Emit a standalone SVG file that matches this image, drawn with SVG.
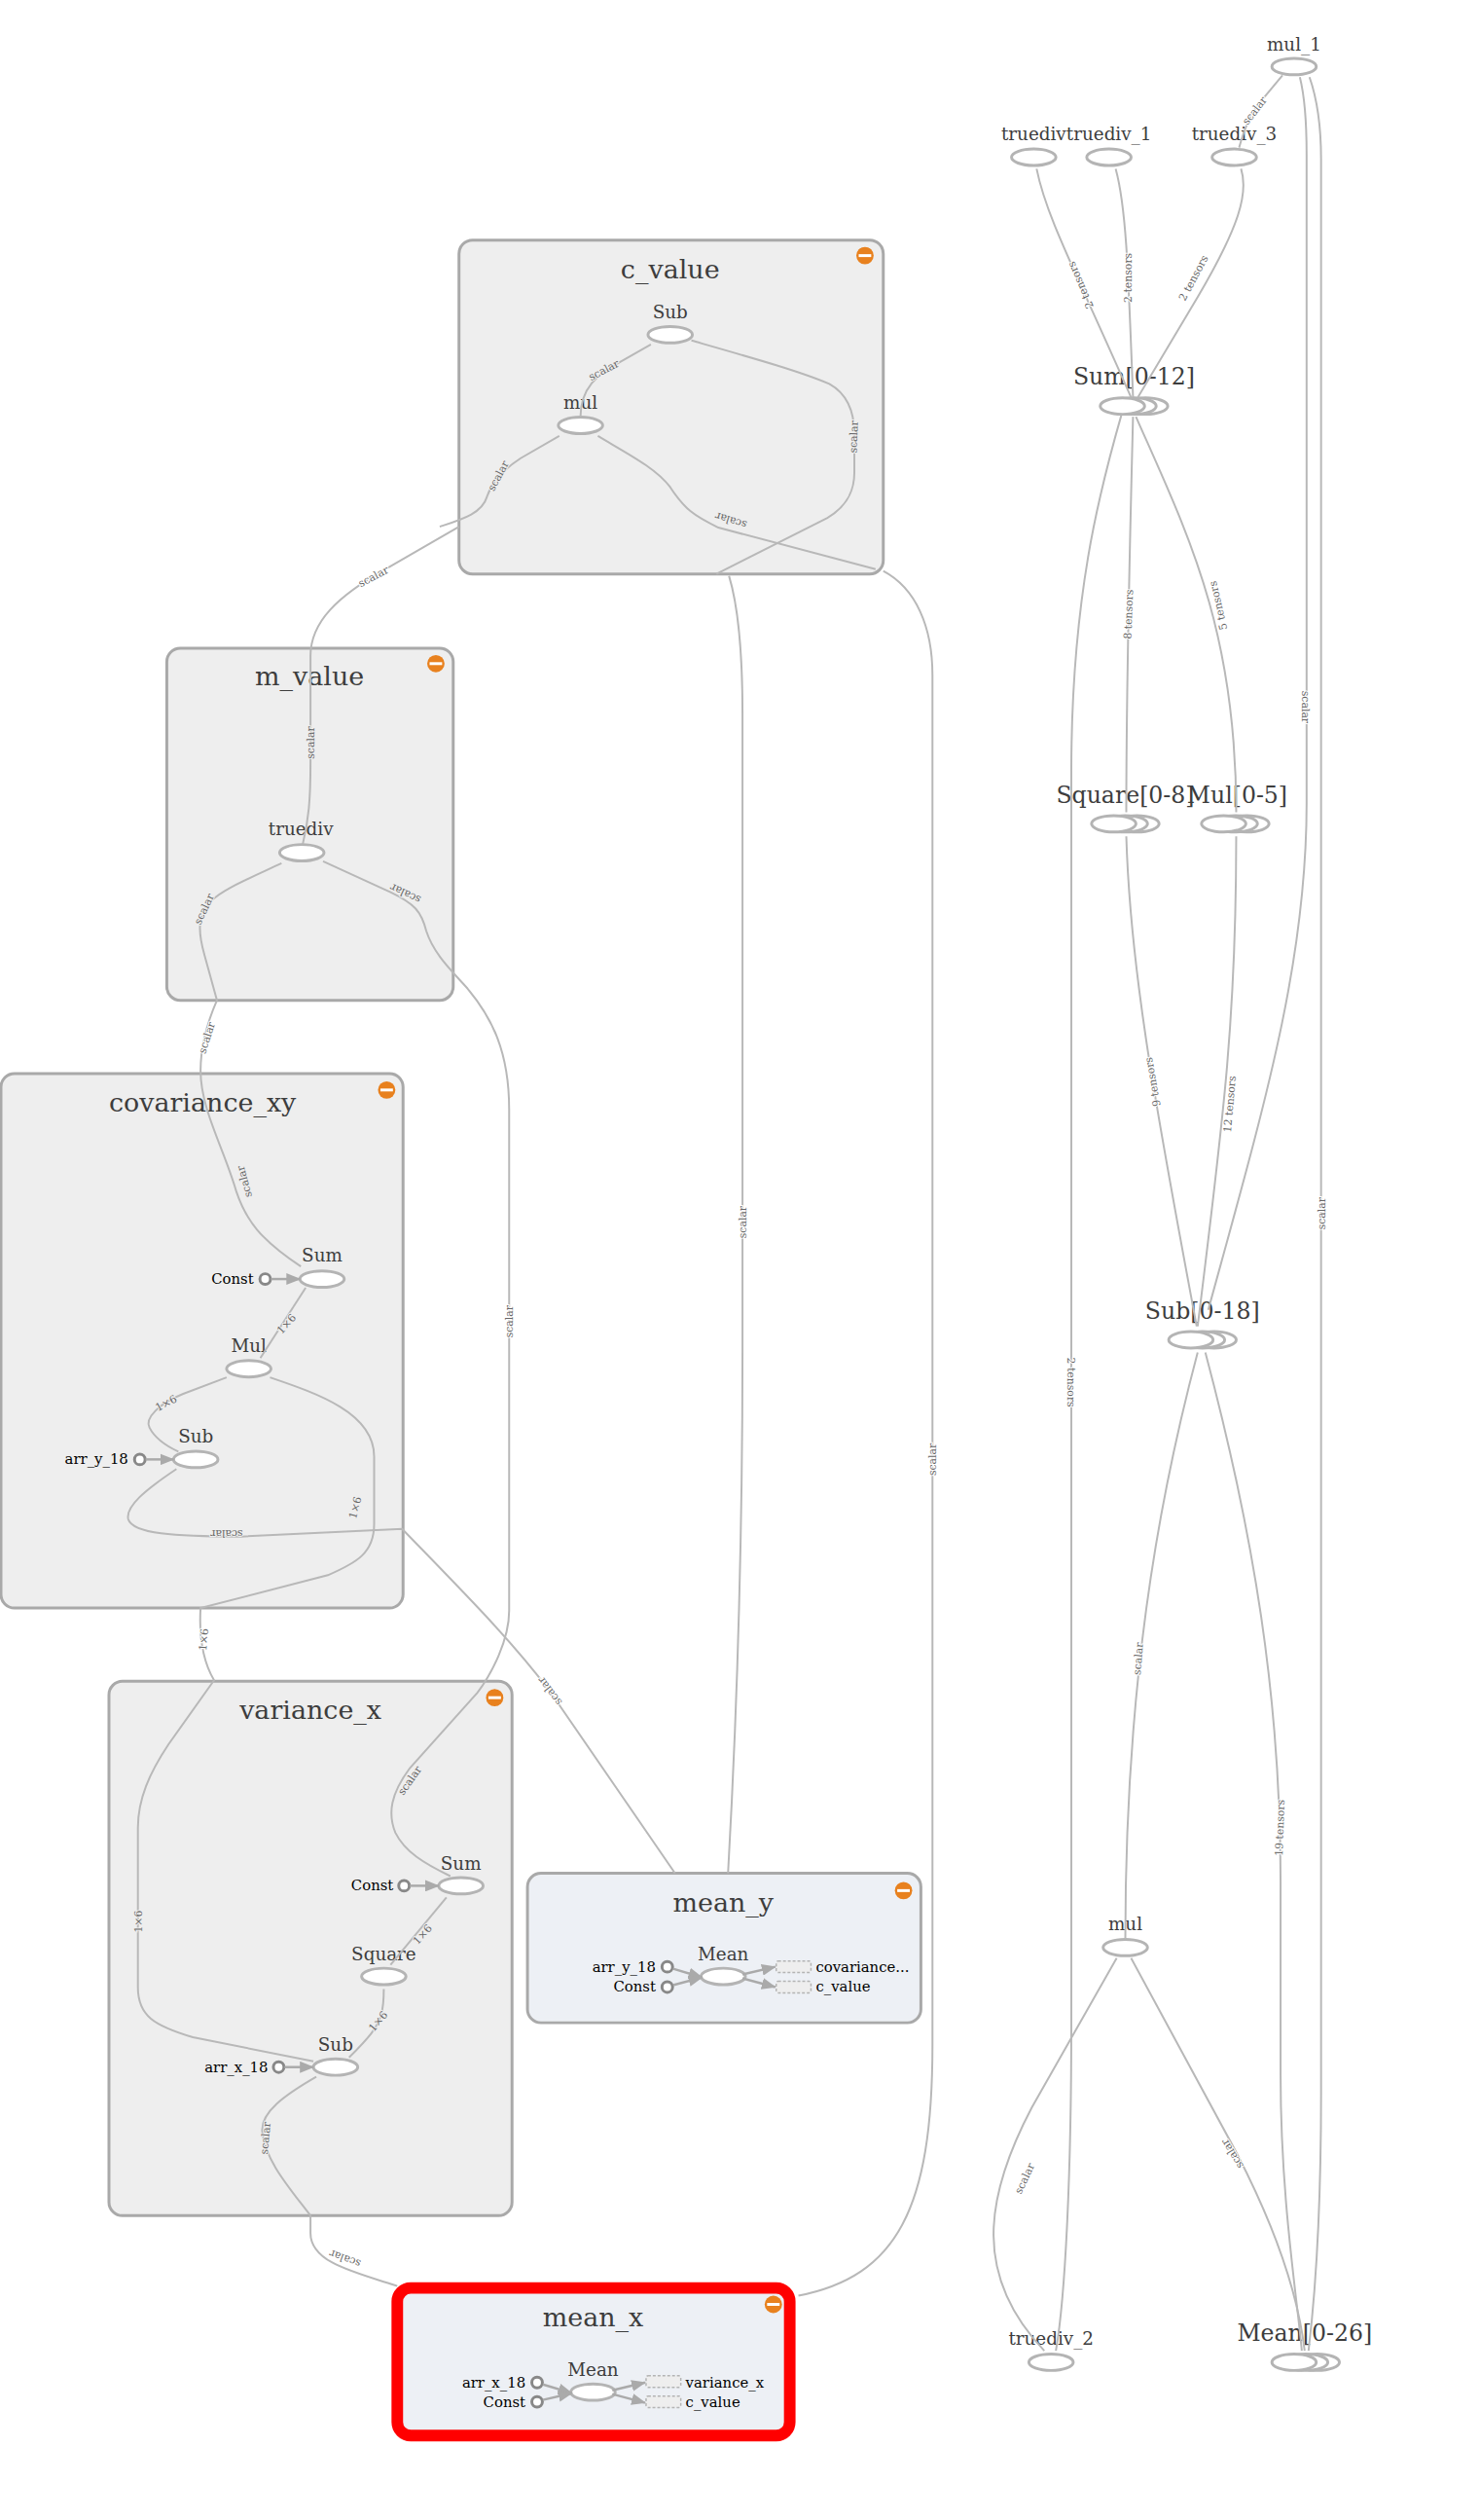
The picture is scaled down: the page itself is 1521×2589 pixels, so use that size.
<svg xmlns="http://www.w3.org/2000/svg" width="1521" height="2589" viewBox="0 0 1521 2589">
<style>
text{font-family:"DejaVu Serif",serif}
.box{fill:#eee;stroke:#a9a9a9;stroke-width:3}
.meta{fill:#edf0f5;stroke:#a9a9a9;stroke-width:3}
.red{fill:#edf0f5;stroke:#f00;stroke-width:12}
.t{font-size:27.2px;fill:#3d3d3d;text-anchor:middle}
.n{font-size:18.5px;fill:#3d3d3d;text-anchor:middle}
.s{font-size:23.8px;fill:#3d3d3d;text-anchor:middle}
.c{font-size:15px;fill:#000;text-anchor:end}
.o{font-size:15px;fill:#000}
.op{fill:#fff;stroke:#b4b4b4;stroke-width:3}
.cn{fill:#fff;stroke:#888;stroke-width:3}
.d{fill:#eee;stroke:#b4b4b4;stroke-width:1.5;stroke-dasharray:3 2}
#edges path{fill:none;stroke:#b8b8b8;stroke-width:2}
#edges path.a{stroke:#aaa;stroke-width:2.5;marker-end:url(#ah)}
.l{font-size:11px;fill:#666;text-anchor:middle;paint-order:stroke;stroke:#fff;stroke-width:2}
.g{stroke:#eee}
</style>
<defs>
<marker id="ah" markerUnits="userSpaceOnUse" markerWidth="15" markerHeight="12" refX="14" refY="6" orient="auto"><path d="M0,0L15,6L0,12Z" fill="#aaa" stroke="none"/></marker>
<g id="minus"><circle r="9" fill="#e8811e"/><rect x="-6.5" y="-1.5" width="13" height="3" fill="#fff"/></g>
</defs>
<g id="graph" transform="scale(.991)">
<g id="c_value"><rect class="box" x="476" y="249" width="440" height="346" rx="14"/><text class="t" x="695" y="289">c_value</text><use href="#minus" x="897" y="265"/></g>
<g id="m_value"><rect class="box" x="173" y="672" width="297" height="365" rx="14"/><text class="t" x="321" y="710">m_value</text><use href="#minus" x="452" y="688"/></g>
<g id="covariance_xy"><rect class="box" x="1" y="1113" width="417" height="554" rx="14"/><text class="t" x="210" y="1152">covariance_xy</text><use href="#minus" x="401" y="1130"/></g>
<g id="variance_x"><rect class="box" x="113" y="1743" width="418" height="554" rx="14"/><text class="t" x="322" y="1782">variance_x</text><use href="#minus" x="513" y="1760"/></g>
<g id="mean_y"><rect class="meta" x="547" y="1942" width="408" height="155" rx="14"/><text class="t" x="750" y="1982">mean_y</text><use href="#minus" x="937" y="1960"/>
<ellipse class="op" cx="750" cy="2049" rx="23" ry="8.5"/><text class="n" x="750" y="2032">Mean</text>
<circle class="cn" cx="692" cy="2039" r="5.5"/><text class="c" x="680" y="2044">arr_y_18</text><circle class="cn" cx="692" cy="2060" r="5.5"/><text class="c" x="680" y="2065">Const</text>
<rect class="d" x="805" y="2033" width="36" height="12" rx="2"/><rect class="d" x="805" y="2054" width="36" height="12" rx="2"/><text class="o" x="846" y="2044">covariance...</text><text class="o" x="846" y="2065">c_value</text></g>
<g id="mean_x"><rect class="red" x="412" y="2372" width="407" height="153" rx="14"/><text class="t" x="615" y="2412">mean_x</text><use href="#minus" x="802" y="2389"/>
<ellipse class="op" cx="615" cy="2480" rx="23" ry="8.5"/><text class="n" x="615" y="2463">Mean</text>
<circle class="cn" cx="557" cy="2470" r="5.5"/><text class="c" x="545" y="2475">arr_x_18</text><circle class="cn" cx="557" cy="2490" r="5.5"/><text class="c" x="545" y="2495">Const</text>
<rect class="d" x="670" y="2463" width="36" height="12" rx="2"/><rect class="d" x="670" y="2484" width="36" height="12" rx="2"/><text class="o" x="711" y="2475">variance_x</text><text class="o" x="711" y="2495">c_value</text></g>
<g id="c_Sub"><ellipse class="op" cx="695" cy="347" rx="23" ry="8.5"/><text class="n" x="695" y="330">Sub</text></g>
<g id="c_mul"><ellipse class="op" cx="602" cy="441" rx="23" ry="8.5"/><text class="n" x="602" y="424">mul</text></g>
<g id="m_truediv"><ellipse class="op" cx="313" cy="884" rx="23" ry="8.5"/><text class="n" x="312" y="866">truediv</text></g>
<g id="cov_Sum"><ellipse class="op" cx="334" cy="1326" rx="23" ry="8.5"/><text class="n" x="334" y="1308">Sum</text><circle class="cn" cx="275" cy="1326" r="5.5"/><text class="c" x="263" y="1331">Const</text></g>
<g id="cov_Mul"><ellipse class="op" cx="258" cy="1419" rx="23" ry="8.5"/><text class="n" x="258" y="1402">Mul</text></g>
<g id="cov_Sub"><ellipse class="op" cx="203" cy="1513" rx="23" ry="8.5"/><text class="n" x="203" y="1495">Sub</text><circle class="cn" cx="145" cy="1513" r="5.5"/><text class="c" x="133" y="1518">arr_y_18</text></g>
<g id="var_Sum"><ellipse class="op" cx="478" cy="1955" rx="23" ry="8.5"/><text class="n" x="478" y="1938">Sum</text><circle class="cn" cx="419" cy="1955" r="5.5"/><text class="c" x="408" y="1960">Const</text></g>
<g id="var_Square"><ellipse class="op" cx="398" cy="2049" rx="23" ry="8.5"/><text class="n" x="398" y="2032">Square</text></g>
<g id="var_Sub"><ellipse class="op" cx="348" cy="2143" rx="23" ry="8.5"/><text class="n" x="348" y="2126">Sub</text><circle class="cn" cx="289" cy="2143" r="5.5"/><text class="c" x="278" y="2148">arr_x_18</text></g>
<g id="mul_1"><ellipse class="op" cx="1342" cy="69" rx="23" ry="8.5"/><text class="n" x="1342" y="52">mul_1</text></g>
<g id="truediv"><ellipse class="op" cx="1072" cy="163" rx="23" ry="8.5"/><text class="n" x="1072" y="145">truediv</text></g>
<g id="truediv_1"><ellipse class="op" cx="1150" cy="163" rx="23" ry="8.5"/><text class="n" x="1150" y="145">truediv_1</text></g>
<g id="truediv_3"><ellipse class="op" cx="1280" cy="163" rx="23" ry="8.5"/><text class="n" x="1280" y="145">truediv_3</text></g>
<g id="Sum_0_12"><ellipse class="op" cx="1188" cy="421" rx="23" ry="8.5"/><ellipse class="op" cx="1176" cy="421" rx="23" ry="8.5"/><ellipse class="op" cx="1164" cy="421" rx="23" ry="8.5"/><text class="s" x="1176" y="399">Sum[0-12]</text></g>
<g id="Square_0_8"><ellipse class="op" cx="1179" cy="854" rx="23" ry="8.5"/><ellipse class="op" cx="1167" cy="854" rx="23" ry="8.5"/><ellipse class="op" cx="1155" cy="854" rx="23" ry="8.5"/><text class="s" x="1167" y="832">Square[0-8]</text></g>
<g id="Mul_0_5"><ellipse class="op" cx="1293" cy="854" rx="23" ry="8.5"/><ellipse class="op" cx="1281" cy="854" rx="23" ry="8.5"/><ellipse class="op" cx="1269" cy="854" rx="23" ry="8.5"/><text class="s" x="1283" y="832">Mul[0-5]</text></g>
<g id="Sub_0_18"><ellipse class="op" cx="1259" cy="1389" rx="23" ry="8.5"/><ellipse class="op" cx="1247" cy="1389" rx="23" ry="8.5"/><ellipse class="op" cx="1235" cy="1389" rx="23" ry="8.5"/><text class="s" x="1247" y="1367">Sub[0-18]</text></g>
<g id="mul"><ellipse class="op" cx="1167" cy="2019" rx="23" ry="8.5"/><text class="n" x="1167" y="2001">mul</text></g>
<g id="truediv_2"><ellipse class="op" cx="1090" cy="2449" rx="23" ry="8.5"/><text class="n" x="1090" y="2431">truediv_2</text></g>
<g id="Mean_0_26"><ellipse class="op" cx="1366" cy="2449" rx="23" ry="8.5"/><ellipse class="op" cx="1354" cy="2449" rx="23" ry="8.5"/><ellipse class="op" cx="1342" cy="2449" rx="23" ry="8.5"/><text class="s" x="1353" y="2427">Mean[0-26]</text></g>
<g id="edges">
<path d="M675,357L640,377C620,388 602,402 602,432"/>
<path d="M717,353C780,371 830,385 860,398C878,408 886,425 886,450L886,490C886,510 878,525 858,537L743,595"/>
<path d="M756,597C766,630 770,680 770,740L770,1400C770,1600 763,1800 755,1942"/>
<path d="M580,452L540,475C520,488 510,500 505,515C500,532 480,538 456,546"/>
<path d="M476,546L400,590C350,618 322,645 322,680L322,790C322,830 320,850 314,875"/>
<path d="M620,452C650,470 680,485 695,505C710,528 720,535 745,547L908,590"/>
<path d="M916,592C950,610 967,650 967,700L967,2120C967,2290 930,2360 828,2380"/>
<path d="M292,895C260,910 230,922 218,935C205,950 205,965 212,990L225,1037C215,1060 208,1085 208,1110C208,1150 232,1190 245,1235C255,1265 270,1285 312,1313"/>
<path d="M335,893L405,925C430,937 437,945 442,965C450,990 470,1008 485,1025C510,1055 528,1090 528,1150L528,1670C528,1700 510,1735 495,1755L425,1833C405,1860 402,1880 410,1900C420,1920 440,1932 467,1945"/>
<path d="M317,1335L270,1408"/>
<path d="M235,1428L190,1445C165,1455 150,1470 155,1480C160,1490 170,1498 185,1505"/>
<path d="M280,1428C330,1445 388,1465 388,1510L388,1580C388,1610 370,1620 340,1633L208,1667C206,1700 212,1725 222,1742L175,1808C155,1838 143,1865 143,1895L143,2060C143,2090 160,2100 200,2112L325,2137"/>
<path d="M183,1523C150,1545 130,1562 133,1575C138,1590 180,1593 250,1593L417,1585C480,1650 530,1700 570,1753L700,1942"/>
<path d="M463,1967L405,2037"/>
<path d="M398,2062C398,2085 395,2095 385,2108C378,2117 370,2125 362,2133"/>
<path d="M328,2153C295,2172 270,2190 272,2210C275,2240 300,2268 322,2297L322,2315C322,2345 365,2355 412,2370"/>
<path d="M1075,175C1085,225 1115,280 1173,412"/>
<path d="M1157,175C1168,215 1170,280 1175,412"/>
<path d="M1287,175C1295,200 1285,235 1242,308L1180,412"/>
<path d="M1330,78L1305,108C1297,118 1290,135 1285,153"/>
<path d="M1348,80C1353,100 1355,125 1355,160L1355,833C1355,1000 1310,1150 1253,1358"/>
<path d="M1358,80C1365,100 1370,125 1370,165L1370,2170C1370,2280 1365,2370 1357,2437"/>
<path d="M1163,430C1140,510 1111,620 1111,800L1111,2100C1111,2250 1105,2380 1095,2437"/>
<path d="M1175,432C1172,550 1168,700 1168,842"/>
<path d="M1178,432C1230,550 1282,650 1282,842"/>
<path d="M1168,867C1172,1000 1195,1130 1241,1375"/>
<path d="M1282,867C1282,1050 1270,1150 1242,1375"/>
<path d="M1242,1402C1200,1560 1167,1750 1167,2010"/>
<path d="M1250,1402C1300,1590 1328,1760 1328,1950L1328,2150C1328,2280 1345,2380 1350,2437"/>
<path d="M1158,2030L1070,2185C1020,2280 1010,2360 1083,2437"/>
<path d="M1173,2030L1283,2233C1315,2295 1345,2370 1353,2437"/>
<path class="a" d="M281,1326L311,1326"/>
<path class="a" d="M151,1513L180,1513"/>
<path class="a" d="M425,1955L455,1955"/>
<path class="a" d="M295,2143L325,2143"/>
<path class="a" d="M698,2041L728,2050"/>
<path class="a" d="M698,2058L728,2050"/>
<path class="a" d="M770,2047L804,2039"/>
<path class="a" d="M770,2051L804,2060"/>
<path class="a" d="M563,2472L593,2481"/>
<path class="a" d="M563,2488L593,2481"/>
<path class="a" d="M635,2478L669,2470"/>
<path class="a" d="M635,2482L669,2491"/>
<g id="edge-labels">
<text class="l g" transform="translate(628,387) rotate(-28)">scalar</text>
<text class="l g" transform="translate(889,453) rotate(-88)">scalar</text>
<text class="l" transform="translate(774,1267) rotate(-90)">scalar</text>
<text class="l g" transform="translate(520,495) rotate(-62)">scalar</text>
<text class="l" transform="translate(389,601) rotate(-28)">scalar</text>
<text class="l g" transform="translate(326,770) rotate(-90)">scalar</text>
<text class="l g" transform="translate(759,536) rotate(197)">scalar</text>
<text class="l" transform="translate(971,1513) rotate(-90)">scalar</text>
<text class="l g" transform="translate(215,944) rotate(-65)">scalar</text>
<text class="l" transform="translate(218,1077) rotate(-72)">scalar</text>
<text class="l g" transform="translate(257,1224) rotate(-105)">scalar</text>
<text class="l g" transform="translate(422,923) rotate(205)">scalar</text>
<text class="l" transform="translate(532,1370) rotate(-90)">scalar</text>
<text class="l g" transform="translate(428,1848) rotate(-55)">scalar</text>
<text class="l g" transform="translate(300,1375) rotate(-48)">1×6</text>
<text class="l g" transform="translate(174,1458) rotate(-28)">1×6</text>
<text class="l g" transform="translate(372,1564) rotate(-75)">1×6</text>
<text class="l" transform="translate(215,1700) rotate(-85)">1×6</text>
<text class="l g" transform="translate(235,1586) rotate(180)">scalar</text>
<text class="l" transform="translate(573,1751) rotate(233)">scalar</text>
<text class="l g" transform="translate(147,1992) rotate(-90)">1×6</text>
<text class="l g" transform="translate(441,2008) rotate(-48)">1×6</text>
<text class="l g" transform="translate(395,2098) rotate(-50)">1×6</text>
<text class="l g" transform="translate(279,2217) rotate(-85)">scalar</text>
<text class="l" transform="translate(359,2338) rotate(200)">scalar</text>
<text class="l" transform="translate(1124,294) rotate(-113)">2 tensors</text>
<text class="l" transform="translate(1174,288) rotate(-90)">2 tensors</text>
<text class="l" transform="translate(1241,290) rotate(-62)">2 tensors</text>
<text class="l" transform="translate(1304,117) rotate(-52)">scalar</text>
<text class="l" transform="translate(1350,733) rotate(90)">scalar</text>
<text class="l" transform="translate(1374,1258) rotate(-90)">scalar</text>
<text class="l" transform="translate(1107,1433) rotate(90)">2 tensors</text>
<text class="l" transform="translate(1174,637) rotate(-88)">8 tensors</text>
<text class="l" transform="translate(1267,627) rotate(-103)">5 tensors</text>
<text class="l" transform="translate(1199,1121) rotate(-100)">9 tensors</text>
<text class="l" transform="translate(1279,1145) rotate(-85)">12 tensors</text>
<text class="l" transform="translate(1184,1720) rotate(-85)">scalar</text>
<text class="l" transform="translate(1331,1895) rotate(-88)">19 tensors</text>
<text class="l" transform="translate(1066,2260) rotate(-65)">scalar</text>
<text class="l" transform="translate(1281,2231) rotate(-122)">scalar</text>
</g>
</g>
</g>
</svg>
